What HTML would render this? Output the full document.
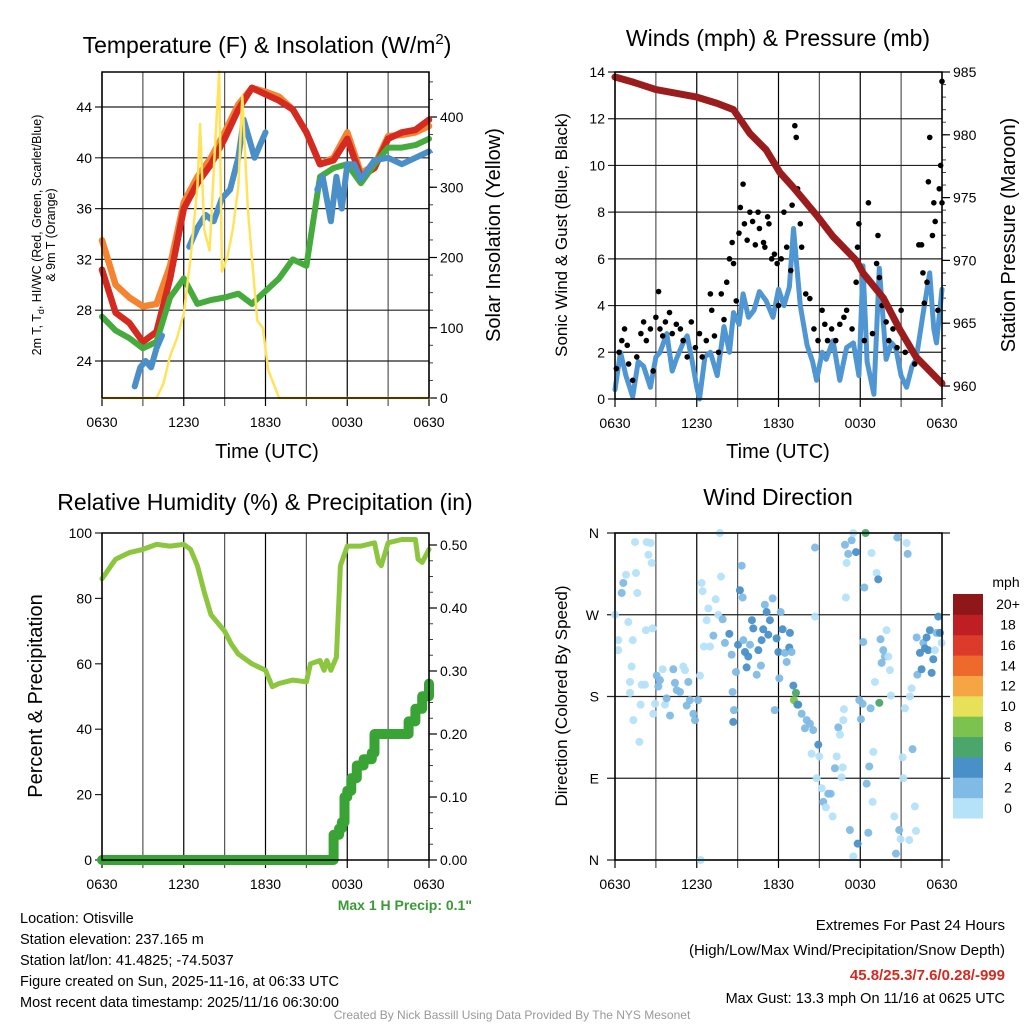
<!DOCTYPE html>
<html><head><meta charset="utf-8">
<style>
body{margin:0;background:#fff;}
svg{display:block;font-family:"Liberation Sans",sans-serif;}
</style></head>
<body>
<svg id="c" width="1024" height="1024" viewBox="0 0 1024 1024" xmlns="http://www.w3.org/2000/svg">
<rect width="1024" height="1024" fill="#fff"/>
<g id="g"></g>
<text x="267" y="53" font-size="23" text-anchor="middle">Temperature (F) &amp; Insolation (W/m<tspan dy="-9" font-size="15">2</tspan><tspan dy="9">)</tspan></text>
<text x="778" y="46" font-size="23" text-anchor="middle">Winds (mph) &amp; Pressure (mb)</text>
<text x="265" y="510" font-size="23" text-anchor="middle">Relative Humidity (%) &amp; Precipitation (in)</text>
<text x="778" y="505" font-size="23" text-anchor="middle">Wind Direction</text>
<text x="267" y="458" font-size="20" text-anchor="middle">Time (UTC)</text>
<text x="778" y="458" font-size="20" text-anchor="middle">Time (UTC)</text>
<text transform="translate(41,235) rotate(-90)" font-size="12.5" text-anchor="middle">2m T, T<tspan dy="3" font-size="9">d</tspan><tspan dy="-3">, HI/WC (Red, Green, Scarlet/Blue)</tspan></text>
<text transform="translate(55,235) rotate(-90)" font-size="12.5" text-anchor="middle">&amp; 9m T (Orange)</text>
<text transform="translate(500,235) rotate(-90)" font-size="20" text-anchor="middle">Solar Insolation (Yellow)</text>
<text transform="translate(567,235) rotate(-90)" font-size="17" text-anchor="middle">Sonic Wind &amp; Gust (Blue, Black)</text>
<text transform="translate(1015,235) rotate(-90)" font-size="20" text-anchor="middle">Station Pressure (Maroon)</text>
<text transform="translate(42,696) rotate(-90)" font-size="20" text-anchor="middle">Percent &amp; Precipitation</text>
<text transform="translate(567,696) rotate(-90)" font-size="17" text-anchor="middle">Direction (Colored By Speed)</text>
<text x="472" y="910" font-size="14" font-weight="bold" fill="#3a9a35" text-anchor="end">Max 1 H Precip: 0.1"</text>
<g font-size="14.5">
<text x="20" y="923">Location: Otisville</text>
<text x="20" y="944">Station elevation: 237.165 m</text>
<text x="20" y="965">Station lat/lon: 41.4825; -74.5037</text>
<text x="20" y="986">Figure created on Sun, 2025-11-16, at 06:33 UTC</text>
<text x="20" y="1007">Most recent data timestamp: 2025/11/16 06:30:00</text>
</g>
<g font-size="15" text-anchor="end">
<text x="1005" y="930">Extremes For Past 24 Hours</text>
<text x="1005" y="955">(High/Low/Max Wind/Precipitation/Snow Depth)</text>
<text x="1005" y="980" fill="#d42a20" font-weight="bold">45.8/25.3/7.6/0.28/-999</text>
<text x="1005" y="1003" font-size="14.5">Max Gust: 13.3 mph On 11/16 at 0625 UTC</text>
</g>
<text x="512" y="1019" font-size="12" fill="#999" text-anchor="middle">Created By Nick Bassill Using Data Provided By The NYS Mesonet</text>
</svg>
<script>
const xTickLabels=["0630","1230","1830","0030","0630"];
const tHours=[0,1,2,3,4,5,6,7,8,9,10,11,12,13,14,15,16,17,18,19,20,21,22,23,24];
const tempRed=[31.2,27.8,27,25.5,26.3,30.5,36,38,39.5,41.5,43.8,45.5,45,44.5,43.8,42,39.5,39.8,41.5,38.5,39.2,41.5,42,42.2,43];
const tempOrange=[33.5,30,29,28.3,28.5,31.5,36.5,38.5,40,42,44.2,45.5,45.2,44.8,43.8,42,39.5,40,42,38.8,39.4,41.7,41.8,42,42.5];
const dewGreen=[27.5,26.4,25.8,25,25.5,29,30.5,28.5,28.8,29,29.3,28.5,29.5,30.5,32,31.5,38.5,39.2,39.5,38,39.5,40.8,40.8,41,41.5];
const wcHours=[2.4,2.8,3.2,3.6,4.0,4.4,null,6.4,7,7.6,8.2,8.8,9.4,10,10.4,10.8,11.2,11.6,12,null,15.8,16.2,16.8,17.2,17.6,18,18.5,19,20,21,22,23,24];
const wcBlue=[22,23.5,24,23.5,25,26,null,33,34.5,35.5,35,36.8,37.5,40,43,41.5,40,41,42,null,37.5,38.5,35,38.5,36,39.5,39.5,38.3,39.8,40,39.5,40,40.5];
const solarHours=[0,4,4.5,5,5.5,6,6.5,7,7.2,7.5,7.9,8.3,8.6,8.8,9.2,9.6,10,10.3,10.7,11,11.4,11.8,12.2,12.6,13,24];
const solar=[0,0,20,60,85,120,200,300,390,240,210,360,465,180,200,240,300,430,270,200,110,100,40,20,0,0];
const tempTicks=[24,28,32,36,40,44];
const solarTicks=[0,100,200,300,400];

const presHours=[0,1.3,3,6,7.5,8.7,9.9,11.1,12.1,13.1,14.8,16,17.7,18.2,19.7,20.9,22.1,24];
const pressure=[984.6,984.2,983.6,983,982.5,982,980.1,978.8,977,975.8,973.6,971.9,970,969,967,964.5,962.3,960.2];
const windHours=[0,0.4,0.8,1.3,1.7,2.1,2.6,3.0,3.3,3.8,4.2,4.5,5.0,5.3,5.7,6,6.2,6.6,7,7.5,8,8.4,8.7,9.1,9.4,9.8,10.2,10.6,11.1,11.6,12,12.4,12.8,13.1,13.6,14.1,14.5,14.8,15.2,15.5,16,16.5,17,17.5,17.9,18.2,18.5,19,19.4,19.9,20.3,20.6,21,21.4,21.8,22.1,22.6,23.1,23.4,23.6,24];
const windSpeed=[0.4,2.0,1.0,0.1,1.6,1.4,0.5,1.8,2.0,2.8,1.2,1.7,2.4,2.7,1.5,0.5,0,1.8,2.0,1.0,3.1,2.0,3.7,3.2,4.5,3.5,3.8,4.6,4.2,3.5,4.7,4.0,4.8,7.3,4.0,2.3,1.6,0.8,2.0,1.7,2.5,0.8,2.2,2.4,1.0,5.7,1.6,0.2,5.6,1.7,2.4,2.2,1.0,0.5,1.4,1.7,3.6,5.4,3.0,2.4,4.7];
const gustHours=[0.1,0.3,0.5,0.7,0.9,1.0,1.3,1.6,1.9,2.1,2.3,2.6,2.8,3.0,3.2,3.3,3.5,3.7,4.0,4.2,4.5,4.8,5.0,5.3,5.6,5.9,6.2,6.4,6.7,7.0,7.1,7.3,7.6,7.8,8.0,8.2,8.4,8.6,8.7,8.9,9.1,9.2,9.4,9.5,9.7,9.9,10.1,10.3,10.5,10.6,10.9,11.0,11.2,11.3,11.5,11.7,11.9,12.0,12.2,12.4,12.6,12.9,13.0,13.2,13.3,13.4,13.6,13.7,14.0,14.3,14.6,14.9,15.2,15.4,15.6,15.9,16.2,16.5,16.8,17.0,17.4,17.7,17.8,17.9,18.3,18.6,18.9,19.2,19.3,19.4,19.6,19.9,20.1,20.4,20.7,21.0,21.3,21.6,22.0,22.3,22.5,22.6,22.7,22.9,23.0,23.1,23.3,23.4,23.5,23.7,23.8,23.9,24.0,24.0];
const gust=[1.3,2.0,2.5,3.0,2.3,1.5,0.8,1.8,2.8,3.3,2.5,3.0,1.2,3.5,4.6,3.0,2.7,3.3,3.7,2.8,3.2,3.0,2.5,1.8,3.3,2.2,2.8,1.8,2.5,4.5,3.8,2.7,2.0,4.5,3.4,5.0,6.0,6.7,5.8,4.2,7.1,8.2,9.2,7.5,6.8,8.0,7.6,6.6,8.0,7.3,6.7,6.5,7.8,7.5,6.0,6.2,5.8,4.0,6.0,8.0,6.5,5.5,8.3,11.7,11.2,9.0,7.5,6.5,4.5,4.3,3.0,2.5,3.8,3.2,2.5,3.0,2.5,3.2,3.5,3.8,3.0,5.0,6.5,7.5,2.5,8.4,2.8,5.8,7.0,5.2,4.0,3.3,2.5,3.0,2.2,3.8,2.0,2.3,1.5,6.6,6.6,5.4,4.1,5.0,9.3,11.2,7.0,8.4,7.6,3.8,9.0,10.0,13.6,8.4];
const windTicks=[0,2,4,6,8,10,12,14];
const presTicks=[960,965,970,975,980,985];

const rhHours=[0,0.5,1,2,3,4,5,6,6.5,7,7.5,8,9,9.5,10,11,12,12.5,13,14,15,15.3,16,16.3,16.5,16.8,17,17.2,17.5,18,19,20,20.3,20.5,21,22,23,23.2,23.5,24];
const rh=[86,89,92,94,95,96.5,96,96.5,95,90,82,75,70,66,63,60,58,53,54,55,54.5,60,61,58,61,58,60,62,90,96,96,97,91,90,97,98,98,92,91,95];
const precipHours=[0,16.9,17.0,17.4,17.6,17.8,18.0,18.3,18.7,19.2,19.8,20.0,21.0,22.2,22.5,23,23.5,24];
const precip=[0,0,0.04,0.05,0.06,0.10,0.11,0.13,0.15,0.16,0.17,0.20,0.20,0.20,0.22,0.24,0.26,0.28];
const rhTicks=[0,20,40,60,80,100];
const precipTicks=["0.00","0.10","0.20","0.30","0.40","0.50"];

const dirHours=[0,0.24,0.24,0.49,0.61,0.81,0.98,1.22,1.1,1.1,1.3,1.35,1.47,1.54,1.64,1.79,1.88,1.96,2.2,2.32,2.45,2.62,2.69,2.27,2.76,2.94,2.81,3.06,3.18,3.3,3.5,3.67,3.79,4.04,4.28,4.4,4.53,4.77,5.01,5.14,5.26,5.38,5.5,5.75,5.87,6.1,6.24,6.29,6.36,6.43,6.53,6.73,6.85,6.97,7.22,7.39,7.58,7.78,7.7,7.9,8.07,8.39,8.56,8.63,8.73,8.68,8.88,9.03,9.17,9.3,9.37,9.42,9.54,9.66,9.78,9.91,10.05,10.15,10.4,10.52,10.71,10.76,10.88,11.0,11.13,11.25,11.37,11.57,11.72,11.86,11.99,12.06,12.16,12.3,12.47,12.6,12.79,12.84,12.96,13.09,13.13,13.28,13.38,13.45,13.7,13.94,14.07,14.31,14.43,14.55,14.68,14.68,14.8,14.92,14.99,15.17,15.29,15.48,15.65,15.83,15.97,16.14,16.27,16.39,16.51,16.63,16.71,16.76,16.8,16.88,17.0,16.95,17.12,17.24,17.37,17.49,17.49,17.69,17.81,17.93,18.05,18.17,18.22,18.3,18.39,18.47,18.59,18.66,18.76,18.83,18.91,18.96,19.08,19.2,19.32,19.4,19.49,19.57,19.69,19.81,19.93,20.06,20.18,20.25,20.5,20.62,20.72,20.86,20.96,21.11,21.16,21.28,21.4,21.48,21.6,21.65,21.77,21.84,22.01,22.09,22.19,22.14,22.38,22.5,22.63,22.75,22.87,22.99,23.11,23.24,23.36,23.48,23.6,23.73,23.85,23.97];
const dirDeg=[270,242,231,294,305,314,262,213,196,184,242,154,350,316,294,130,171,193,193,350,336,349,327,253,255,172,161,203,191,198,210,171,178,159,210,195,187,185,213,209,170,196,176,161,154,176,203,0,305,296,235,264,277,235,247,287,270,312,360,265,239,249,226,185,165,152,207,237,297,324,289,242,229,212,224,237,264,255,204,231,214,242,254,281,273,248,264,288,165,244,229,200,273,254,228,218,234,250,229,192,176,184,171,171,161,145,154,150,117,143,344,268,90,127,114,79,64,58,73,73,48,101,114,146,138,91,102,154,166,347,327,289,337,33,352,360,4,339,18,176,155,172,240,300,360,84,30,103,167,338,64,119,196,316,309,173,243,217,231,224,253,224,209,181,48,7,355,33,23,113,90,167,349,337,22,180,189,122,59,32,204,245,228,210,239,233,245,231,253,206,221,231,250,268,250,239];
const dirSpeed=[1,1,1,3,3,1,1,1,1,1,1,1,1,1,1,1,1,1,1,1,1,1,1,1,1,1,1,3,3,3,1,1,3,3,3,3,3,3,1,1,3,3,3,3,3,3,1,1,1,1,1,1,1,1,3,1,1,1,1,3,3,5,3,3,3,5,3,5,5,3,3,3,5,5,5,3,5,5,3,5,3,5,5,3,5,5,5,3,3,5,5,3,3,5,3,3,5,5,3,5,9,7,7,5,3,3,3,3,1,3,3,1,1,5,1,1,3,1,3,3,1,3,1,3,1,1,1,1,1,3,1,1,3,3,3,1,1,5,5,3,3,3,3,3,7,3,3,3,3,1,1,1,1,1,5,7,3,3,3,3,1,1,1,1,1,3,3,3,1,1,1,1,1,3,1,1,1,3,1,1,3,3,5,5,3,5,5,5,5,5,5,1,3,5,5,1];
const dirLabels=["N","E","S","W","N"];
const cbLabels=["0","2","4","6","8","10","12","14","16","18","20+"];
const cbColors=["#b5e2f8","#80bbe5","#4a90c8","#4aa66a","#7cc24e","#e6e158","#f5a544","#ee6a2c","#dc3a2a","#bf1e24","#8f1719"];

const NS="http://www.w3.org/2000/svg";
const G=document.getElementById('g');
function el(tag,attrs,parent){const e=document.createElementNS(NS,tag);for(const k in attrs)e.setAttribute(k,attrs[k]);(parent||G).appendChild(e);return e;}
function txt(s,attrs,parent){const e=el('text',attrs,parent);e.textContent=s;return e;}
function lin(d0,d1,r0,r1){return v=>r0+(v-d0)*(r1-r0)/(d1-d0);}
function pathD(xs,ys,xf,yf){let d="",pen=false;for(let i=0;i<xs.length;i++){if(xs[i]===null||ys[i]===null){pen=false;continue;}d+=(pen?"L":"M")+xf(xs[i]).toFixed(1)+","+yf(ys[i]).toFixed(1);pen=true;}return d;}

function frame(px0,px1,py0,py1,name){
  const f=el('g',{});
  
  
  const xf=lin(0,24,px0,px1);
  for(let h=0;h<=24;h+=3){
    const gl=el('line',{x1:xf(h),x2:xf(h),y1:py0,y2:py1+8,stroke:(h%6==0?'#000':'#555'),'stroke-width':1.2},f);
    
    
  }
  for(let i=0;i<xTickLabels.length;i++){
    const t=txt(xTickLabels[i],{x:xf(i*6),y:py1+29,'font-size':14,'text-anchor':'middle'},f);
    
    
  }
  return {f,xf};
}
function border(px0,px1,py0,py1){
  const r=el('rect',{x:px0,y:py0,width:px1-px0,height:py1-py0,fill:'none',stroke:'#000','stroke-width':1.5});
  
  
}
function leftAxis(f,ticks,yf,px0,px1,labels){
  ticks.forEach((v,i)=>{
    const y=yf(+v);
    const l=el('line',{x1:px0-7,x2:px1,y1:y,y2:y,stroke:'#222','stroke-width':1.2},f);
    
    
    const t=txt(labels?labels[i]:String(v),{x:px0-10,y:y+5,'font-size':14,'text-anchor':'end'},f);
    
    
  });
}
function rightAxis(f,ticks,yf,px1,minorStep,dmin,dmax){
  for(let v=dmin;v<=dmax+1e-9;v+=minorStep){const y=yf(v);if(y<0)continue;el('line',{x1:px1,x2:px1+4,y1:y,y2:y,stroke:'#444','stroke-width':1},f);}
  ticks.forEach(v=>{
    const y=yf(+v);
    el('line',{x1:px1,x2:px1+8,y1:y,y2:y,stroke:'#000','stroke-width':1.2},f);
    const t=txt(String(v),{x:px1+11,y:y+5,'font-size':14},f);
    
    
  });
}
function series(d,color,w,name){
  const p=el('path',{d:d,fill:'none',stroke:color,'stroke-width':w,'stroke-linejoin':'round','stroke-linecap':'round'});
  
  
  return p;
}

(function(){
  const X0=102,X1=429,Y0=72,Y1=398;
  const {f,xf}=frame(X0,X1,Y0,Y1,'temp');
  const yT=lin(24,44,361,107);
  const yS=lin(0,400,398,117);
  leftAxis(f,tempTicks,yT,X0,X1);
  rightAxis(f,solarTicks,yS,X1,25,0,450);
  series(pathD(tHours,tempOrange,xf,yT),'#f58430',6.5,'nine-m-temp-line');
  series(pathD(tHours,tempRed,xf,yT),'#d42a20',6.5,'two-m-temp-line');
  series(pathD(tHours,dewGreen,xf,yT),'#45ab3d',6,'dewpoint-line');
  series(pathD(wcHours,wcBlue,xf,yT),'#4a8fc8',6,'windchill-heatindex-line');
  series(pathD(solarHours,solar,xf,yS),'#ffe35c',2.5,'solar-insolation-line');
  border(X0,X1,Y0,Y1);
})();

(function(){
  const X0=615,X1=942,Y0=72,Y1=399;
  const {f,xf}=frame(X0,X1,Y0,Y1,'wind');
  const yW=lin(0,14,399,72);
  const yP=lin(960,985,386,72);
  leftAxis(f,windTicks,yW,X0,X1);
  rightAxis(f,presTicks,yP,X1,1,959,985);
  series(pathD(windHours,windSpeed,xf,yW),'#4f96d2',5,'sonic-wind-line');
  gustHours.forEach((h,i)=>{
    const c=el('circle',{cx:xf(h),cy:yW(gust[i]),r:2.8,fill:'#000'});
    
    
  });
  series(pathD(presHours,pressure,xf,yP),'#9b1c1c',7,'pressure-line');
  border(X0,X1,Y0,Y1);
})();

(function(){
  const X0=102,X1=429,Y0=533,Y1=860;
  const {f,xf}=frame(X0,X1,Y0,Y1,'rh');
  const yR=lin(0,100,860,533);
  const yQ=lin(0,0.5,860,545);
  leftAxis(f,rhTicks,yR,X0,X0);
  rightAxis(f,precipTicks,yQ,X1,0.025,0,0.5);
  series(pathD(rhHours,rh,xf,yR),'#8cc63f',5,'relative-humidity-line');
  let sx=[],sy=[];
  for(let i=0;i<precipHours.length;i++){ if(i>0){sx.push(precipHours[i]);sy.push(precip[i-1]);} sx.push(precipHours[i]);sy.push(precip[i]); }
  series(pathD(sx,sy,xf,yQ),'#3aa335',10,'precipitation-line');
  border(X0,X1,Y0,Y1);
})();

(function(){
  const X0=615,X1=942,Y0=533,Y1=860;
  const {f,xf}=frame(X0,X1,Y0,Y1,'dir');
  const yD=lin(0,360,860,533);
  dirLabels.forEach((lab,i)=>{
    const y=yD(i*90);
    el('line',{x1:X0-8,x2:X1+8,y1:y,y2:y,stroke:'#222','stroke-width':1.2},f);
    const t=txt(lab,{x:X0-16,y:y+5,'font-size':14,'text-anchor':'end'},f);
    
    
  });
  function col(s){let b=Math.floor(s/2);if(b>10)b=10;return cbColors[b];}
  dirHours.forEach((h,i)=>{
    const c=el('circle',{cx:xf(h),cy:yD(dirDeg[i]),r:4,fill:col(dirSpeed[i]),'fill-opacity':0.95});
    
    
  });
  border(X0,X1,Y0,Y1);
  const cb=el('g',{});
  
  
  const cy1=818,ch=(818-594)/cbColors.length;
  cbColors.forEach((c,i)=>{
    el('rect',{x:953,y:cy1-(i+1)*ch,width:30,height:ch+0.5,fill:c},cb);
    txt(cbLabels[i],{x:1008,y:cy1-(i+0.5)*ch+5,'font-size':14,'text-anchor':'middle'},cb);
  });
  txt('mph',{x:1006,y:587,'font-size':14,'text-anchor':'middle'},cb);
})();
</script>
</body></html>
